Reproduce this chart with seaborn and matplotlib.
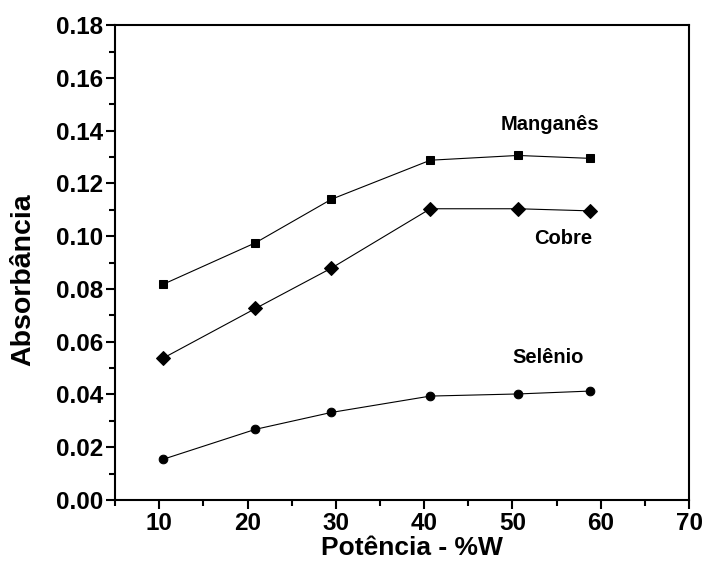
import numpy as np
import pandas as pd
import matplotlib
matplotlib.use("Agg")
import matplotlib.pyplot as plt
import seaborn as sns
from matplotlib.ticker import MultipleLocator

# potencia (%W) and absorbancia
potencia = [10.4, 20.9, 29.5, 40.7, 50.6, 58.8]
manganes = [0.0817, 0.0975, 0.1140, 0.1288, 0.1306, 0.1295]
cobre = [0.0537, 0.0726, 0.0879, 0.1104, 0.1104, 0.1096]
selenio = [0.0154, 0.0268, 0.0332, 0.0394, 0.0402, 0.0413]

series_names = ["Manganês", "Cobre", "Selênio"]
series_markers = ["s", "D", "o"]
series_values = [manganes, cobre, selenio]
label_pos = {"Manganês": (54.2, 0.1425), "Cobre": (55.7, 0.0993), "Selênio": (54.0, 0.0542)}

black = {"axes.edgecolor": "black", "text.color": "black", "axes.labelcolor": "black",
         "xtick.color": "black", "ytick.color": "black"}
sns.set_style("ticks", rc=black)
plt.rcParams["font.family"] = ["Liberation Sans", "DejaVu Sans"]
plt.rcParams["font.weight"] = "bold"

fig = plt.figure(figsize=(7.06, 5.71), dpi=100)
ax = fig.add_axes([0.163, 0.1243, 0.813, 0.8317])

for name, mk, vals in zip(series_names, series_markers, series_values):
    df = pd.DataFrame({"x": potencia, "y": vals})
    ms = 7.2 if mk == "D" else 6.2
    sns.lineplot(data=df, x="x", y="y", ax=ax, color="black", linewidth=0.8,
                 marker=mk, markersize=ms, markeredgecolor="black", markerfacecolor="black")
    tx, ty = label_pos[name]
    ax.text(tx, ty, name, ha="center", va="center", fontsize=14.5, fontweight="bold")

ax.set_xlim(5, 70)
ax.set_ylim(0, 0.18)
ax.xaxis.set_major_locator(MultipleLocator(10))
ax.xaxis.set_minor_locator(MultipleLocator(5))
ax.yaxis.set_major_locator(MultipleLocator(0.02))
ax.yaxis.set_minor_locator(MultipleLocator(0.01))
ax.yaxis.set_major_formatter(matplotlib.ticker.FormatStrFormatter("%.2f"))

for s in ax.spines.values():
    s.set_visible(True)
    s.set_linewidth(1.5)
    s.set_color("black")
ax.tick_params(which="major", length=6.5, width=1.5, labelsize=17.5, direction="out", pad=2)
ax.tick_params(which="minor", length=4, width=1.5, direction="out")
for lab in ax.get_xticklabels() + ax.get_yticklabels():
    lab.set_fontweight("bold")

ax.set_xlabel("Potência - %W", fontsize=19, fontweight="bold")
ax.set_ylabel("Absorbância", fontsize=20.5, fontweight="bold")
ax.xaxis.set_label_coords(0.518, -0.075)
ax.yaxis.set_label_coords(-0.137, 0.465)

fig.savefig("out.png", dpi=100)
